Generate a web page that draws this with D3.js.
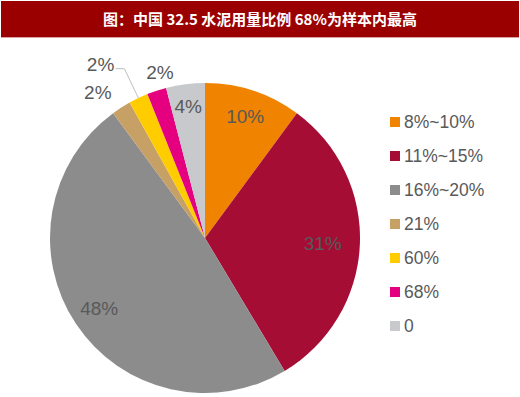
<!DOCTYPE html>
<meta charset="utf-8">
<style>
body { margin: 0; background: #fff; }
svg { display: block; }
.lbl { font-family: Arial, "Liberation Sans", sans-serif; font-size: 19px; fill: #595959; }
.leg { font-family: Arial, "Liberation Sans", sans-serif; font-size: 17.5px; fill: #595959; }
</style>
<body>
<svg id="chart" width="520" height="397"></svg>
<script src="https://d3js.org/d3.v7.min.js"></script>
<script>

var title = "图：中国 32.5 水泥用量比例 68%为样本内最高";
var categories = ["8%~10%", "11%~15%", "16%~20%", "21%", "60%", "68%", "0"];
var values = [10, 31, 48, 2, 2, 2, 4];
var colors = ["#f08300", "#a50d35", "#8c8c8c", "#c7a065", "#ffcc00", "#e4007f", "#c8c9cc"];

// label placement: radius as fraction of pie radius, angle nudge in degrees
var labelRadius = [0.83, 0.76, 0.82, 1.17, 1.31, 1.11, 0.86];
var labelShift = [0, 0, 0, -3.5, -5.5, 3, 0];

var width = 520, height = 397;
var cx = 205, cy = 238, r = 155;

var svg = d3.select("#chart");

// title bar
svg.append("rect")
   .attr("x", 1).attr("y", 1)
   .attr("width", width - 2).attr("height", 36)
   .attr("fill", "#9a0000");
svg.append("rect")
   .attr("x", 1).attr("y", 37)
   .attr("width", width - 2).attr("height", 1)
   .attr("fill", "#d9a0a0");
svg.append("text")
   .attr("x", width / 2).attr("y", 25)
   .attr("text-anchor", "middle")
   .attr("fill", "#fff")
   .style("font-family", "'Noto Sans CJK SC', sans-serif")
   .style("font-weight", "bold")
   .style("font-size", "15px")
   .text(title);

var pie = d3.pie().sort(null).value(d => d);
var arcs = pie(values);
var arc = d3.arc().innerRadius(0).outerRadius(r);

var g = svg.append("g").attr("transform", "translate(" + cx + "," + cy + ")");

g.selectAll("path")
 .data(arcs)
 .enter().append("path")
 .attr("d", arc)
 .attr("fill", (d, i) => colors[i]);

function labelPos(d, i, rad) {
  var a = (d.startAngle + d.endAngle) / 2 + labelShift[i] * Math.PI / 180;
  var rr = (rad === undefined ? labelRadius[i] : rad) * r;
  return [Math.sin(a) * rr, -Math.cos(a) * rr];
}

g.selectAll("text.lbl")
 .data(arcs)
 .enter().append("text")
 .attr("class", "lbl")
 .attr("text-anchor", "middle")
 .attr("dy", "0.36em")
 .attr("x", (d, i) => labelPos(d, i)[0])
 .attr("y", (d, i) => labelPos(d, i)[1])
 .text((d, i) => values[i] + "%");

// leader line for the yellow slice
var yl = arcs[4];
var mid = (yl.startAngle + yl.endAngle) / 2;
var p0 = [Math.sin(mid) * r, -Math.cos(mid) * r];
var p1 = [Math.sin(mid) * r * 1.21, -Math.cos(mid) * r * 1.21];
var p2 = [labelPos(yl, 4)[0] + 15, p1[1]];
g.append("path")
 .attr("d", d3.line()([p0, p1, p2]))
 .attr("fill", "none")
 .attr("stroke", "#bfbfbf")
 .attr("stroke-width", 1);

// legend
var ly = d3.scalePoint().domain(categories).range([122, 326]);
var leg = svg.append("g").selectAll("g")
   .data(categories)
   .enter().append("g")
   .attr("transform", d => "translate(390," + ly(d) + ")");
leg.append("rect")
   .attr("x", 0).attr("y", -5)
   .attr("width", 10).attr("height", 10)
   .attr("fill", (d, i) => colors[i]);
leg.append("text")
   .attr("class", "leg")
   .attr("x", 14).attr("dy", "0.36em")
   .text(d => d);

</script>
</body>
